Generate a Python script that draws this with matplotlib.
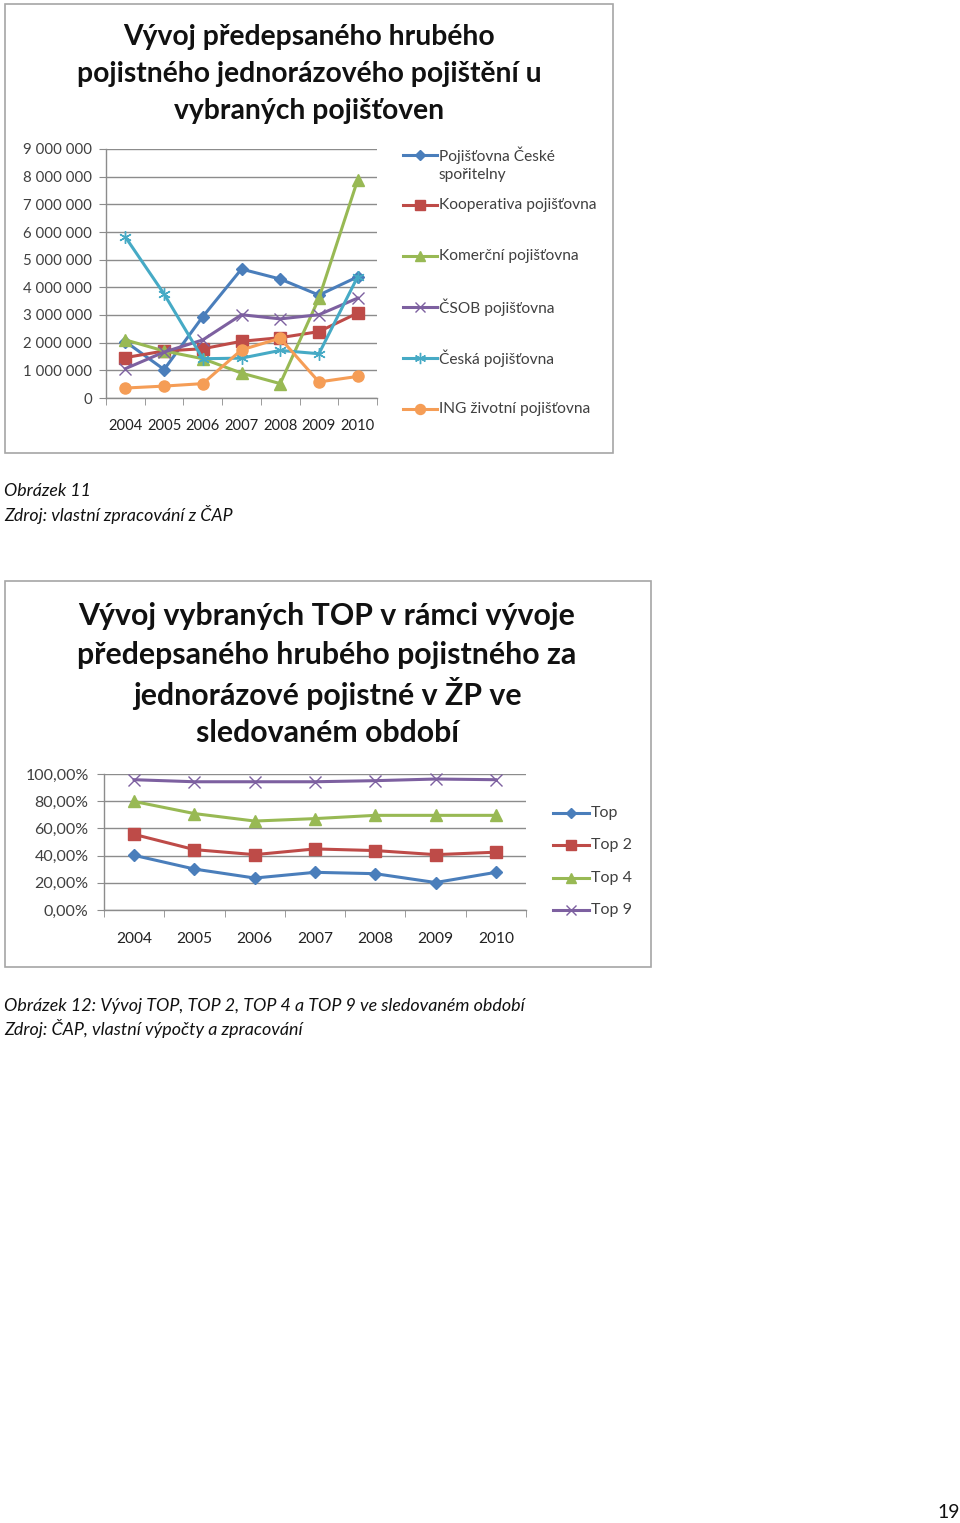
import matplotlib
matplotlib.use("Agg")
import matplotlib.pyplot as plt
from matplotlib.lines import Line2D
from matplotlib.patches import Rectangle
from matplotlib.ticker import FuncFormatter, FixedLocator

plt.rcParams['font.family'] = ['Lato', 'DejaVu Sans']

# ---------------- data ----------------
years = ["2004", "2005", "2006", "2007", "2008", "2009", "2010"]

ceska_sporitelna = [2040000, 1030000, 2940000, 4660000, 4300000, 3720000, 4380000]
kooperativa = [1460000, 1700000, 1780000, 2050000, 2180000, 2400000, 3070000]
komercni = [2100000, 1700000, 1420000, 900000, 520000, 3600000, 7880000]
csob = [1060000, 1660000, 2100000, 3010000, 2860000, 3010000, 3610000]
ceska_pojistovna = [5820000, 3760000, 1420000, 1440000, 1720000, 1600000, 4380000]
ing = [360000, 430000, 520000, 1740000, 2160000, 580000, 780000]

labels1 = ["Pojišťovna České\nspořitelny", "Kooperativa pojišťovna", "Komerční pojišťovna",
           "ČSOB pojišťovna", "Česká pojišťovna", "ING životní pojišťovna"]

top1 = [40.2, 30.1, 23.5, 27.7, 26.7, 20.2, 27.7]
top2 = [55.6, 44.4, 40.7, 44.9, 43.7, 40.7, 42.5]
top4 = [79.8, 70.9, 65.4, 67.2, 69.6, 69.6, 69.6]
top9 = [95.8, 94.3, 94.3, 94.3, 95.1, 96.3, 95.8]
labels2 = ["Top", "Top 2", "Top 4", "Top 9"]

title1 = "Vývoj předepsaného hrubého\npojistného jednorázového pojištění u\nvybraných pojišťoven"
title2 = "Vývoj vybraných TOP v rámci vývoje\npředepsaného hrubého pojistného za\njednorázové pojistné v ŽP ve\nsledovaném období"

# ---------------- figure ----------------
W, H = 960, 1523
fig = plt.figure(figsize=(W / 100, H / 100), dpi=100)
fig.patch.set_facecolor("white")


def fx(x):
    return x / W


def fy(y):
    return 1 - y / H


def add_ax(x0, y0, x1, y1):
    return fig.add_axes([fx(x0), fy(y1), fx(x1) - fx(x0), fy(y0) - fy(y1)])


def box(x0, y0, x1, y1):
    fig.add_artist(Rectangle((fx(x0), fy(y1)), fx(x1) - fx(x0), fy(y0) - fy(y1),
                             transform=fig.transFigure, fill=False,
                             edgecolor="#a6a6a6", linewidth=1.2))


C_BLUE = "#4a7ebb"
C_RED = "#be4b48"
C_GREEN = "#98b954"
C_PURPLE = "#7d60a0"
C_CYAN = "#46aac5"
C_ORANGE = "#f59d56"
GRID = "#8c8c8c"
TXT = "#404040"

styles1 = [
    dict(color=C_BLUE, marker="D", ms=6),
    dict(color=C_RED, marker="s", ms=8),
    dict(color=C_GREEN, marker="^", ms=8),
    dict(color=C_PURPLE, marker="x", ms=8, mew=1.0),
    dict(color=C_CYAN, marker=(6, 2, 0), ms=9, mew=1.0),
    dict(color=C_ORANGE, marker="o", ms=8),
]
styles2 = [
    dict(color=C_BLUE, marker="D", ms=6),
    dict(color=C_RED, marker="s", ms=8),
    dict(color=C_GREEN, marker="^", ms=8),
    dict(color=C_PURPLE, marker="x", ms=8, mew=1.0),
]


def style_axes(ax, ylim, yticks, fmt, fsx, fsy, padx, pady):
    ax.set_xlim(-0.5, len(years) - 0.5)
    ax.set_ylim(*ylim)
    ax.yaxis.set_major_locator(FixedLocator(yticks))
    ax.yaxis.set_major_formatter(FuncFormatter(fmt))
    ax.set_xticks(range(len(years)))
    ax.set_xticklabels(years)
    ax.set_xticks([i - 0.5 for i in range(len(years) + 1)], minor=True)
    ax.tick_params(axis="x", which="major", length=0, labelsize=fsx, labelcolor="#222222", pad=padx)
    ax.tick_params(axis="x", which="minor", length=5, color=GRID, direction="out")
    ax.tick_params(axis="y", which="major", length=5, color=GRID, labelsize=fsy,
                   labelcolor=TXT, pad=pady)
    for s in ("top", "right"):
        ax.spines[s].set_visible(False)
    for s in ("left", "bottom"):
        ax.spines[s].set_color(GRID)
        ax.spines[s].set_linewidth(1.0)
    ax.grid(axis="y", color=GRID, linewidth=1.0)
    ax.set_axisbelow(True)
    ax.set_facecolor("none")


def legend_entry(x0, x1, y, st, label, fs):
    xs = [fx(x0), fx((x0 + x1) / 2), fx(x1)]
    ln = Line2D(xs, [fy(y)] * 3, transform=fig.transFigure, color=st["color"], lw=2.2,
                marker=st["marker"], ms=st["ms"] * 0.9, mew=st.get("mew", 1.0),
                markevery=[1])
    fig.add_artist(ln)
    lines = label.split("\n")
    for k, part in enumerate(lines):
        fig.text(fx(x1 + 2), fy(y + 20 * k), part, ha="left", va="center",
                 fontsize=fs, color=TXT)


# ---------------- chart 1 ----------------
box(5, 4, 613, 453)
for i, line in enumerate(title1.split("\n")):
    fig.text(fx(309), fy(37 + 37 * i), line, ha="center", va="center", fontsize=20.3,
             fontweight="bold", color="#111111")

ax1 = add_ax(106, 149, 377, 398)
series1 = [ceska_sporitelna, kooperativa, komercni, csob, ceska_pojistovna, ing]
for vals, st, lab in zip(series1, styles1, labels1):
    ax1.plot(range(len(years)), vals, color=st["color"], lw=2.2, marker=st["marker"],
             ms=st["ms"], mew=st.get("mew", 1.0), label=lab, clip_on=False)
style_axes(ax1, (0, 9000000), [i * 1000000 for i in range(10)],
           lambda v, p: f"{int(v):,}".replace(",", " "), 10.6, 10.8, 15, 5)

leg_y1 = [155, 205, 256, 307, 358, 409]
for y, st, lab in zip(leg_y1, styles1, labels1):
    legend_entry(403, 437, y, st, lab, 11.2)

# ---------------- captions ----------------
fig.text(fx(4), fy(491), "Obrázek 11", ha="left", va="center", fontsize=12.8,
         style="italic", color="#111111")
fig.text(fx(4), fy(515), "Zdroj: vlastní zpracování z ČAP", ha="left", va="center",
         fontsize=12.8, style="italic", color="#111111")

# ---------------- chart 2 ----------------
box(5, 581, 651, 967)
for i, line in enumerate(title2.split("\n")):
    fig.text(fx(327), fy(616 + 39 * i), line, ha="center", va="center", fontsize=21.8,
             fontweight="bold", color="#111111")

ax2 = add_ax(104, 774, 526, 910)
series2 = [top1, top2, top4, top9]
for vals, st, lab in zip(series2, styles2, labels2):
    ax2.plot(range(len(years)), vals, color=st["color"], lw=2.2, marker=st["marker"],
             ms=st["ms"], mew=st.get("mew", 1.0), label=lab, clip_on=False)
style_axes(ax2, (0, 100), [0, 20, 40, 60, 80, 100],
           lambda v, p: f"{v:.2f}".replace(".", ",") + "%", 11.2, 11.5, 16, 6)

leg_y2 = [813, 845, 878, 910]
for y, st, lab in zip(leg_y2, styles2, labels2):
    legend_entry(553, 589, y, st, lab, 11.5)

fig.text(fx(4), fy(1006), "Obrázek 12: Vývoj TOP, TOP 2, TOP 4 a TOP 9 ve sledovaném období",
         ha="left", va="center", fontsize=12.9, style="italic", color="#111111")
fig.text(fx(4), fy(1029), "Zdroj: ČAP, vlastní výpočty a zpracování",
         ha="left", va="center", fontsize=12.9, style="italic", color="#111111")

fig.text(fx(960), fy(1513), "19", ha="right", va="center", fontsize=14, color="#111111")

fig.savefig("out.png", dpi=100, facecolor="white")
